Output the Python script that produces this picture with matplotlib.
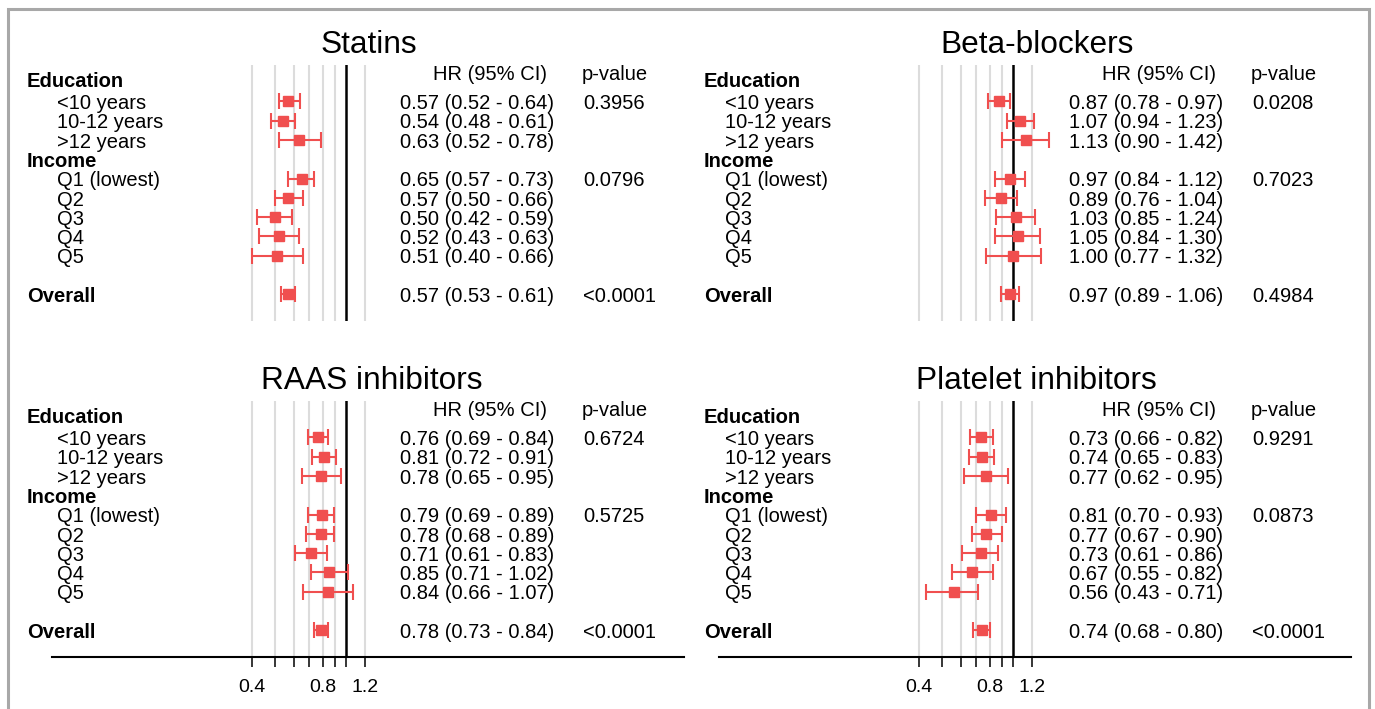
import numpy as np
import matplotlib
matplotlib.use("Agg")
import matplotlib.pyplot as plt
import matplotlib.transforms as mtransforms

plt.rcParams['font.family'] = ['Liberation Sans', 'DejaVu Sans']

# ---- data ----
groups = ["Education", "Income"]
subgroups = ["<10 years", "10-12 years", ">12 years",
             "Q1 (lowest)", "Q2", "Q3", "Q4", "Q5"]
overall_label = "Overall"

# last value in each list = overall
statins_hr = [0.57, 0.54, 0.63, 0.65, 0.57, 0.50, 0.52, 0.51, 0.57]
statins_lo = [0.52, 0.48, 0.52, 0.57, 0.50, 0.42, 0.43, 0.40, 0.53]
statins_hi = [0.64, 0.61, 0.78, 0.73, 0.66, 0.59, 0.63, 0.66, 0.61]
statins_p = ["0.3956", "0.0796", "<0.0001"]

beta_hr = [0.87, 1.07, 1.13, 0.97, 0.89, 1.03, 1.05, 1.00, 0.97]
beta_lo = [0.78, 0.94, 0.90, 0.84, 0.76, 0.85, 0.84, 0.77, 0.89]
beta_hi = [0.97, 1.23, 1.42, 1.12, 1.04, 1.24, 1.30, 1.32, 1.06]
beta_p = ["0.0208", "0.7023", "0.4984"]

raas_hr = [0.76, 0.81, 0.78, 0.79, 0.78, 0.71, 0.85, 0.84, 0.78]
raas_lo = [0.69, 0.72, 0.65, 0.69, 0.68, 0.61, 0.71, 0.66, 0.73]
raas_hi = [0.84, 0.91, 0.95, 0.89, 0.89, 0.83, 1.02, 1.07, 0.84]
raas_p = ["0.6724", "0.5725", "<0.0001"]

plat_hr = [0.73, 0.74, 0.77, 0.81, 0.77, 0.73, 0.67, 0.56, 0.74]
plat_lo = [0.66, 0.65, 0.62, 0.70, 0.67, 0.61, 0.55, 0.43, 0.68]
plat_hi = [0.82, 0.83, 0.95, 0.93, 0.90, 0.86, 0.82, 0.71, 0.80]
plat_p = ["0.9291", "0.0873", "<0.0001"]

grid_vals = [0.4, 0.5, 0.6, 0.7, 0.8, 0.9, 1.2]
tick_vals = [0.4, 0.5, 0.6, 0.7, 0.8, 0.9, 1.0, 1.2]
tick_labels = ["0.4", "", "", "", "0.8", "", "", "1.2"]

# ---- layout (pixels) ----
W, H = 1375, 709
row_px = 19.3
red = '#f04f4f'
fs = 14.5

group_rows = [0, 4]
sub_rows = [1, 2, 3, 5, 6, 7, 8, 9]
overall_row = 11
p_rows = [1, 5, 11]

fig = plt.figure(figsize=(W / 100, H / 100), dpi=100)


def draw_panel(name, hr, lo, hi, pvals, dx, tdx, top, title_x, head_x,
               item_x, bottom_axis):
    # dx: shift of the forest column, tdx: shift of the HR / p columns
    ax_l, ax_r = 52 + dx, 684 + dx
    one_px = 346 + dx
    y0 = top  # pixel y of row 0
    ylim_top, ylim_bot = -0.9, 12.38
    ax_top = y0 + ylim_top * row_px
    ax_bot = y0 + ylim_bot * row_px
    ax = fig.add_axes([ax_l / W, (H - ax_bot) / H,
                       (ax_r - ax_l) / W, (ax_bot - ax_top) / H])
    ax.set_xscale('log')
    k = 102.6  # pixels per ln unit
    ax.set_xlim(np.exp((ax_l - one_px) / k), np.exp((ax_r - one_px) / k))
    ax.set_ylim(ylim_bot, ylim_top)
    ax.patch.set_alpha(0)

    for v in grid_vals:
        ax.axvline(v, color='#dcdcdc', lw=1.5, zorder=0)
    ax.axvline(1.0, color='black', lw=1.8, zorder=1)

    hr = np.array(hr)
    lo = np.array(lo)
    hi = np.array(hi)
    ypos = sub_rows + [overall_row]
    ax.errorbar(hr, ypos, xerr=[hr - lo, hi - hr], fmt='s', color=red,
                ms=7.5, capsize=6, elinewidth=1.5, capthick=1.5, zorder=3)

    for s in ['top', 'left', 'right']:
        ax.spines[s].set_visible(False)
    ax.set_yticks([])
    ax.minorticks_off()
    if bottom_axis:
        ax.spines['bottom'].set_linewidth(1.5)
        ax.set_xticks(tick_vals)
        ax.set_xticklabels(tick_labels)
        ax.minorticks_off()
        ax.tick_params(axis='x', length=7, width=1.1, pad=9, labelsize=14)
    else:
        ax.spines['bottom'].set_visible(False)
        ax.set_xticks([])

    tr = mtransforms.blended_transform_factory(fig.transFigure, ax.transData)
    off = 0.40  # baseline offset in rows
    ax.text(title_x / W, -1.5, name, transform=tr, ha='center',
            va='baseline', fontsize=22.75)
    ax.text((433 + tdx) / W, -0.1, "HR (95% CI)", transform=tr,
            va='baseline', fontsize=fs)
    ax.text((582 + tdx) / W, -0.1, "p-value", transform=tr,
            va='baseline', fontsize=fs)

    ax.text(head_x / W, group_rows[0] + off - 0.13, groups[0], transform=tr,
            va='baseline', fontsize=fs, fontweight='bold')
    ax.text(head_x / W, group_rows[1] + off, groups[1], transform=tr,
            va='baseline', fontsize=fs, fontweight='bold')
    ax.text(head_x / W, overall_row + off, overall_label, transform=tr,
            va='baseline', fontsize=fs, fontweight='bold')
    for lab, r in zip(subgroups, sub_rows):
        ax.text(item_x / W, r + off, lab, transform=tr, va='baseline',
                fontsize=fs)

    for h, l, u, r in zip(hr, lo, hi, ypos):
        ax.text((400 + tdx) / W, r + off, f"{h:.2f} ({l:.2f} - {u:.2f})",
                transform=tr, va='baseline', fontsize=fs)
    for p, r in zip(pvals, p_rows):
        ax.text((583 + tdx) / W, r + off, p, transform=tr,
                va='baseline', fontsize=fs)
    return ax


draw_panel("Statins", statins_hr, statins_lo, statins_hi, statins_p,
           dx=0, tdx=0, top=82, title_x=369, head_x=27, item_x=57,
           bottom_axis=False)
draw_panel("Beta-blockers", beta_hr, beta_lo, beta_hi, beta_p,
           dx=667, tdx=669, top=82, title_x=1037, head_x=704, item_x=725,
           bottom_axis=False)
draw_panel("RAAS inhibitors", raas_hr, raas_lo, raas_hi, raas_p,
           dx=0, tdx=0, top=418, title_x=372, head_x=27, item_x=57,
           bottom_axis=True)
draw_panel("Platelet inhibitors", plat_hr, plat_lo, plat_hi, plat_p,
           dx=667, tdx=669, top=418, title_x=1036, head_x=704, item_x=725,
           bottom_axis=True)

# grey frame around the whole figure
fig.add_artist(plt.Rectangle((8 / W, -0.05), (1369 - 8) / W,
                             (H - 9) / H + 0.05, transform=fig.transFigure,
                             fill=False, edgecolor='#a8a8a8', lw=2.2))

fig.savefig('out.png', dpi=100)
